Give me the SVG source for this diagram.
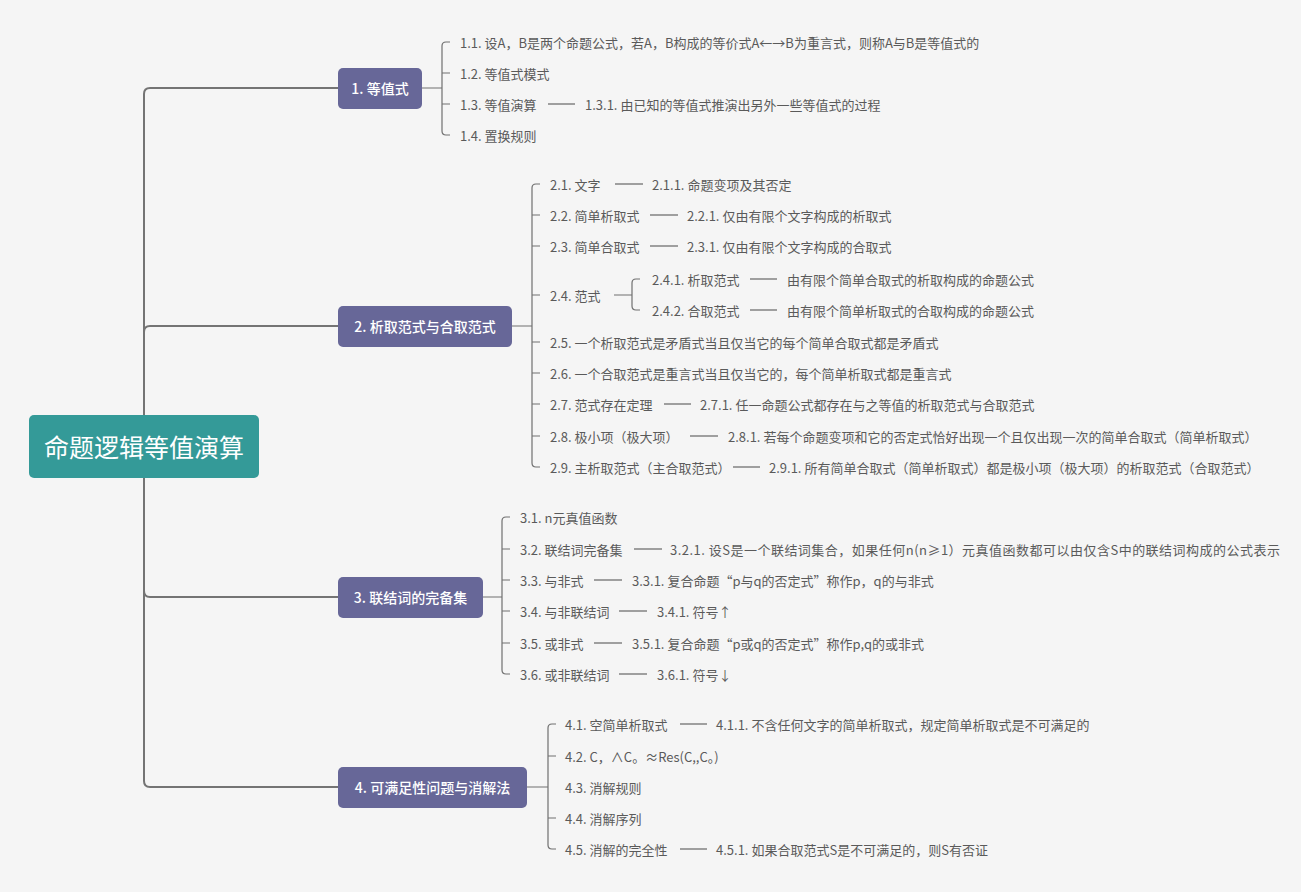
<svg xmlns="http://www.w3.org/2000/svg" width="1301" height="892" viewBox="0 0 1301 892">
<style>
.bg{fill:#f5f5f5}
.trunk{fill:none;stroke:#747474;stroke-width:2}
.br{fill:none;stroke:#707070;stroke-width:1.2}
.dash{stroke:#666;stroke-width:1.2}
.root rect{fill:#349a98}
.root text{fill:#fff;font-family:"Noto Sans CJK SC","Microsoft YaHei",sans-serif;font-size:25px;text-anchor:middle;dominant-baseline:central}
.n1 rect{fill:#676798}
.n1 text{fill:#fff;font-family:"Noto Sans CJK SC","Microsoft YaHei",sans-serif;font-size:14px;font-weight:500;text-anchor:middle;dominant-baseline:central}
.lf text{fill:#5a5a5a;font-family:"Noto Sans CJK SC","Microsoft YaHei",sans-serif;font-size:13px;dominant-baseline:central}
</style>
<rect class="bg" x="0" y="0" width="1301" height="892"/>
<g id="connectors">
<path class="trunk" d="M144,447 V94 Q144,88 150,88 H338"/>
<path class="trunk" d="M144,447 V332 Q144,326 150,326 H338"/>
<path class="trunk" d="M144,447 V591 Q144,597 150,597 H338"/>
<path class="trunk" d="M144,447 V781 Q144,787 150,787 H338"/>
<path class="br" d="M422,88 H442 M450,42 H446 Q442,42 442,46 V131 Q442,135 446,135 H450 M442,73 H450 M442,104 H450"/>
<path class="br" d="M512,326 H532 M540,184 H536 Q532,184 532,188 V463 Q532,467 536,467 H540 M532,215 H540 M532,246 H540 M532,295 H540 M532,342 H540 M532,373 H540 M532,404 H540 M532,436 H540"/>
<path class="br" d="M614,295 H632 M640,279 H636 Q632,279 632,283 V306 Q632,310 636,310 H640"/>
<path class="br" d="M483,597 H502 M510,517 H506 Q502,517 502,521 V670 Q502,674 506,674 H510 M502,549 H510 M502,580 H510 M502,611 H510 M502,643 H510"/>
<path class="br" d="M527,787 H548 M556,724 H552 Q548,724 548,728 V845 Q548,849 552,849 H556 M548,756 H556 M548,818 H556"/>
<line class="dash" x1="548" y1="104" x2="575" y2="104"/>
<line class="dash" x1="615" y1="184" x2="643" y2="184"/>
<line class="dash" x1="650" y1="215" x2="678" y2="215"/>
<line class="dash" x1="650" y1="246" x2="678" y2="246"/>
<line class="dash" x1="750" y1="279" x2="777" y2="279"/>
<line class="dash" x1="750" y1="310" x2="777" y2="310"/>
<line class="dash" x1="664" y1="404" x2="691" y2="404"/>
<line class="dash" x1="690" y1="436" x2="718" y2="436"/>
<line class="dash" x1="733" y1="467" x2="760" y2="467"/>
<line class="dash" x1="634" y1="549" x2="662" y2="549"/>
<line class="dash" x1="594" y1="580" x2="622" y2="580"/>
<line class="dash" x1="619" y1="611" x2="647" y2="611"/>
<line class="dash" x1="594" y1="643" x2="622" y2="643"/>
<line class="dash" x1="619" y1="674" x2="647" y2="674"/>
<line class="dash" x1="680" y1="724" x2="707" y2="724"/>
<line class="dash" x1="680" y1="849" x2="707" y2="849"/>
</g>
<g id="root" class="root"><rect x="29" y="415" width="230" height="63" rx="5"/><text x="144" y="446">命题逻辑等值演算</text></g>
<g id="n1" class="n1"><rect x="338" y="68" width="84" height="41" rx="5"/><text x="380" y="88">1. 等值式</text></g>
<g id="n2" class="n1"><rect x="338" y="306" width="174" height="41" rx="5"/><text x="425" y="326">2. 析取范式与合取范式</text></g>
<g id="n3" class="n1"><rect x="338" y="577" width="145" height="41" rx="5"/><text x="410.5" y="597">3. 联结词的完备集</text></g>
<g id="n4" class="n1"><rect x="338" y="767" width="189" height="41" rx="5"/><text x="432.5" y="787">4. 可满足性问题与消解法</text></g>
<g class="lf">
<g id="n1_1"><text x="460" y="42">1.1. 设A，B是两个命题公式，若A，B构成的等价式A←→B为重言式，则称A与B是等值式的</text></g>
<g id="n1_2"><text x="460" y="73">1.2. 等值式模式</text></g>
<g id="n1_3"><text x="460" y="104">1.3. 等值演算</text></g>
<g id="n1_3_1"><text x="585" y="104">1.3.1. 由已知的等值式推演出另外一些等值式的过程</text></g>
<g id="n1_4"><text x="460" y="135">1.4. 置换规则</text></g>
<g id="n2_1"><text x="550" y="184">2.1. 文字</text></g>
<g id="n2_1_1"><text x="652" y="184">2.1.1. 命题变项及其否定</text></g>
<g id="n2_2"><text x="550" y="215">2.2. 简单析取式</text></g>
<g id="n2_2_1"><text x="687" y="215">2.2.1. 仅由有限个文字构成的析取式</text></g>
<g id="n2_3"><text x="550" y="246">2.3. 简单合取式</text></g>
<g id="n2_3_1"><text x="687" y="246">2.3.1. 仅由有限个文字构成的合取式</text></g>
<g id="n2_4"><text x="550" y="295">2.4. 范式</text></g>
<g id="n2_4_1"><text x="652" y="279">2.4.1. 析取范式</text></g>
<g id="n2_4_1_1"><text x="787" y="279">由有限个简单合取式的析取构成的命题公式</text></g>
<g id="n2_4_2"><text x="652" y="310">2.4.2. 合取范式</text></g>
<g id="n2_4_2_1"><text x="787" y="310">由有限个简单析取式的合取构成的命题公式</text></g>
<g id="n2_5"><text x="550" y="342">2.5. 一个析取范式是矛盾式当且仅当它的每个简单合取式都是矛盾式</text></g>
<g id="n2_6"><text x="550" y="373">2.6. 一个合取范式是重言式当且仅当它的，每个简单析取式都是重言式</text></g>
<g id="n2_7"><text x="550" y="404">2.7. 范式存在定理</text></g>
<g id="n2_7_1"><text x="700" y="404">2.7.1. 任一命题公式都存在与之等值的析取范式与合取范式</text></g>
<g id="n2_8"><text x="550" y="436">2.8. 极小项（极大项）</text></g>
<g id="n2_8_1"><text x="728" y="436">2.8.1. 若每个命题变项和它的否定式恰好出现一个且仅出现一次的简单合取式（简单析取式）</text></g>
<g id="n2_9"><text x="550" y="467">2.9. 主析取范式（主合取范式）</text></g>
<g id="n2_9_1"><text x="769" y="467">2.9.1. 所有简单合取式（简单析取式）都是极小项（极大项）的析取范式（合取范式）</text></g>
<g id="n3_1"><text x="520" y="517">3.1. n元真值函数</text></g>
<g id="n3_2"><text x="520" y="549">3.2. 联结词完备集</text></g>
<g id="n3_2_1"><text x="670" y="549" textLength="610" lengthAdjust="spacing">3.2.1. 设S是一个联结词集合，如果任何n(n≥1）元真值函数都可以由仅含S中的联结词构成的公式表示</text></g>
<g id="n3_3"><text x="520" y="580">3.3. 与非式</text></g>
<g id="n3_3_1"><text x="632" y="580">3.3.1. 复合命题“p与q的否定式”称作p，q的与非式</text></g>
<g id="n3_4"><text x="520" y="611">3.4. 与非联结词</text></g>
<g id="n3_4_1"><text x="657" y="611">3.4.1. 符号↑</text></g>
<g id="n3_5"><text x="520" y="643">3.5. 或非式</text></g>
<g id="n3_5_1"><text x="632" y="643">3.5.1. 复合命题“p或q的否定式”称作p,q的或非式</text></g>
<g id="n3_6"><text x="520" y="674">3.6. 或非联结词</text></g>
<g id="n3_6_1"><text x="657" y="674">3.6.1. 符号↓</text></g>
<g id="n4_1"><text x="565" y="724">4.1. 空简单析取式</text></g>
<g id="n4_1_1"><text x="716" y="724">4.1.1. 不含任何文字的简单析取式，规定简单析取式是不可满足的</text></g>
<g id="n4_2"><text x="565" y="756">4.2. C，∧C。≈Res(C,,C。)</text></g>
<g id="n4_3"><text x="565" y="787">4.3. 消解规则</text></g>
<g id="n4_4"><text x="565" y="818">4.4. 消解序列</text></g>
<g id="n4_5"><text x="565" y="849">4.5. 消解的完全性</text></g>
<g id="n4_5_1"><text x="716" y="849">4.5.1. 如果合取范式S是不可满足的，则S有否证</text></g>
</g>
</svg>
